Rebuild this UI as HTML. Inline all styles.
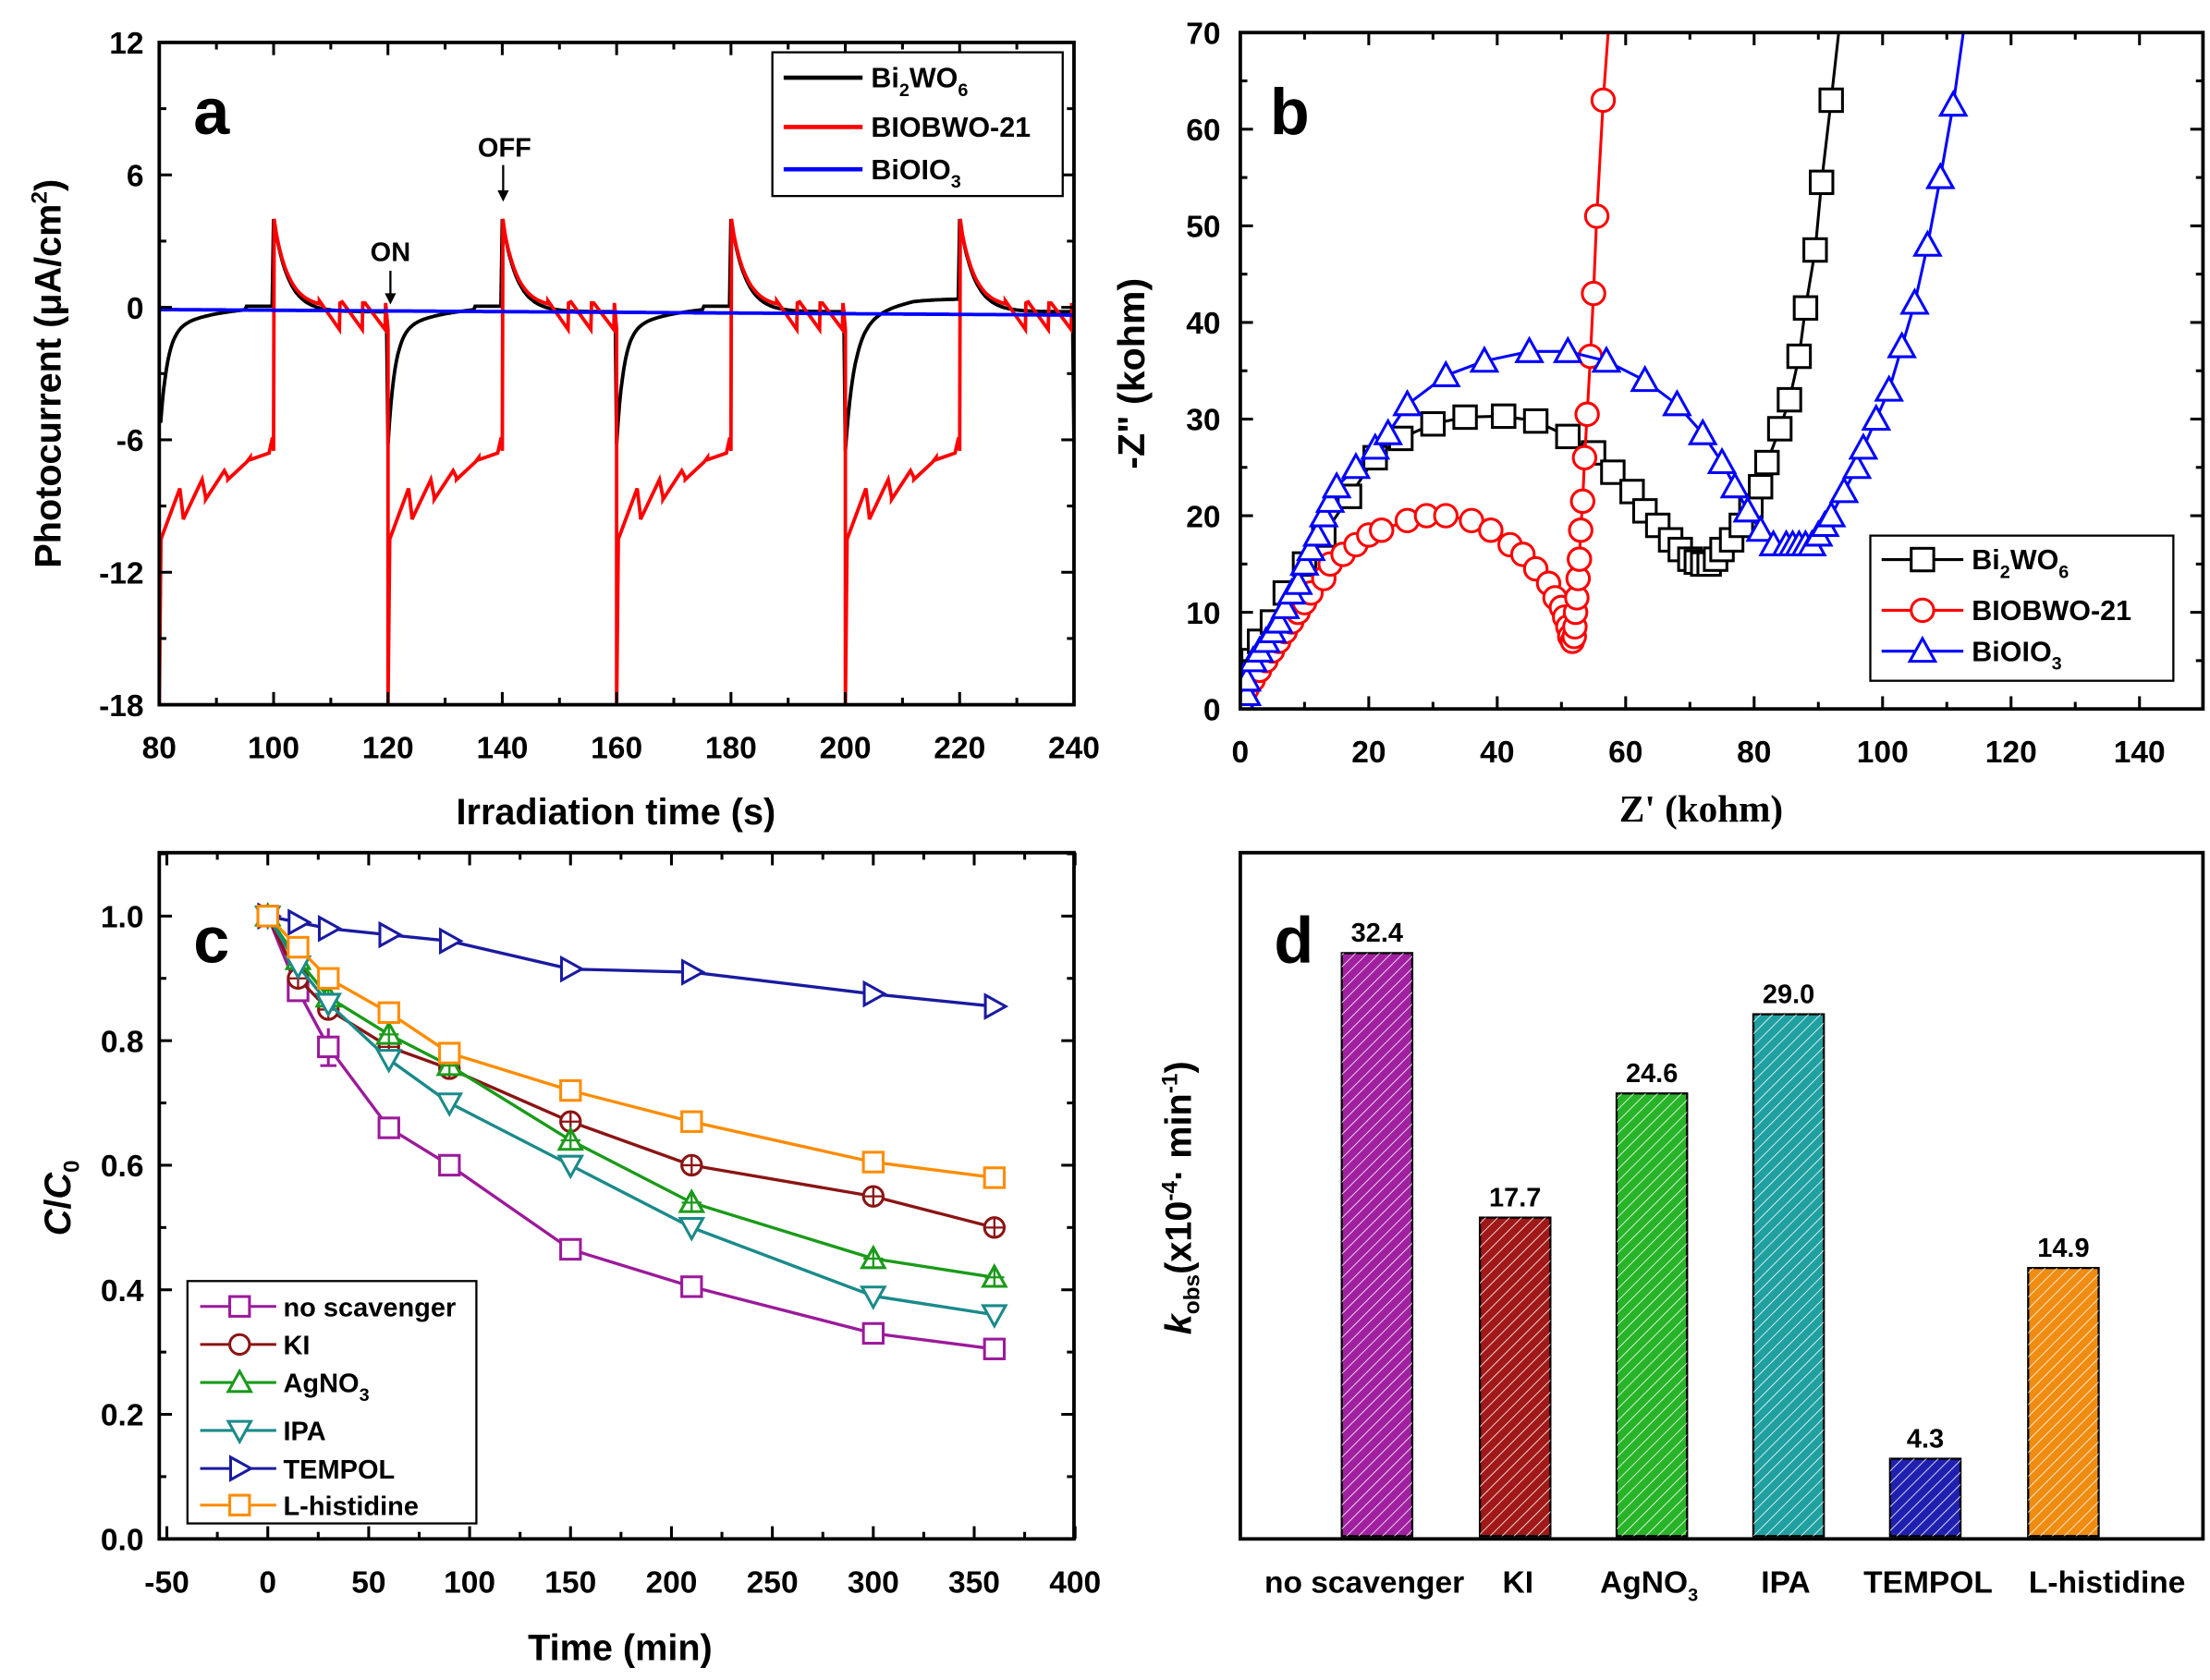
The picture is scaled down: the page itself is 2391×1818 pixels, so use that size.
<!DOCTYPE html>
<html><head><meta charset="utf-8"><style>
html,body{margin:0;padding:0;background:#fff}
svg{display:block}
text{font-family:"Liberation Sans",Arial,sans-serif;font-weight:bold}
</style></head><body>
<svg id="s" width="2391" height="1818" viewBox="0 0 1568 1192" xmlns="http://www.w3.org/2000/svg">
<defs>
<pattern id="h" width="6" height="6" patternUnits="userSpaceOnUse" patternTransform="rotate(45)"><rect width="6" height="6" fill="none"/><line x1="0" y1="0" x2="0" y2="6" stroke="#fff" stroke-width="1.3" opacity="0.8"/></pattern>
</defs>
<g id="g"></g>
</svg>
<script>
var g=document.getElementById('g');var out='';
function L(x1,y1,x2,y2,c,w){out+='<line x1="'+x1+'" y1="'+y1+'" x2="'+x2+'" y2="'+y2+'" stroke="'+(c||'#000')+'" stroke-width="'+(w||2)+'"/>';}
function T(x,y,s,sz,anchor,extra){out+='<text x="'+x+'" y="'+y+'" font-size="'+sz+'" text-anchor="'+(anchor||'middle')+'" '+(extra||'')+'>'+s+'</text>';}
function P(pts,c,w){out+='<polyline fill="none" stroke="'+c+'" stroke-width="'+(w||2)+'" points="'+pts.map(p=>p[0].toFixed(1)+','+p[1].toFixed(1)).join(' ')+'"/>';}
function box(x1,y1,x2,y2){out+='<rect x="'+x1+'" y="'+y1+'" width="'+(x2-x1)+'" height="'+(y2-y1)+'" fill="none" stroke="#000" stroke-width="2.5"/>';}
function mk(type,x,y,c,s){s=s||8;
 if(type=='sq')out+='<rect x="'+(x-s+1)+'" y="'+(y-s+1)+'" width="'+(2*s-2)+'" height="'+(2*s-2)+'" fill="#fff" stroke="'+c+'" stroke-width="2"/>';
 else if(type=='ci')out+='<circle cx="'+x+'" cy="'+y+'" r="'+(s-1)+'" fill="#fff" stroke="'+c+'" stroke-width="2"/>';
 else if(type=='up')out+='<polygon points="'+x+','+(y-s)+' '+(x+s)+','+(y+s*0.8)+' '+(x-s)+','+(y+s*0.8)+'" fill="#fff" stroke="'+c+'" stroke-width="2"/>';
 else if(type=='dn')out+='<polygon points="'+x+','+(y+s)+' '+(x+s)+','+(y-s*0.8)+' '+(x-s)+','+(y-s*0.8)+'" fill="#fff" stroke="'+c+'" stroke-width="2"/>';
 else if(type=='rt')out+='<polygon points="'+(x+s)+','+y+' '+(x-s*0.8)+','+(y-s)+' '+(x-s*0.8)+','+(y+s)+'" fill="#fff" stroke="'+c+'" stroke-width="2"/>';
}
// ===== Panel a =====
var ax=t=>113+(t-80)*649/160, ay=v=>30+(12-v)*470/30;
// clip
out+='<clipPath id="ca"><rect x="113" y="30" width="649" height="470"/></clipPath>';
var blk=[],red=[],blu=[];
for(var t=80;t<=240;t+=0.25){
 var ph=(t-80)%40, v;
 if(ph<20){var d=ph; v=-5*Math.exp(-d/1.2)-1.2*Math.exp(-d/8)+0.1*(d/20); if(d>15)v=0.05; if(t>=200&&t<220)v=-5*Math.exp(-d/1.5)-1.5*Math.exp(-d/5)+0.4*Math.min(1,d/12);}
 else {var d=ph-20; v=4*Math.exp(-d/2.5)-0.2*(1-Math.exp(-d/3));}
 if(t==80)v=-5;
 blk.push([ax(t),ay(v)]);
 blu.push([ax(t),ay(-0.1-0.25*(t-80)/160)]);
}
// red
red.push([ax(80),ay(-18)]);
for(var c=0;c<4;c++){var t0=80+c*40;
 red.push([ax(t0),ay(-18)]);red.push([ax(t0+0.3),ay(-10.5)]);
 var v=-10.5;
 for(var k=0;k<5;k++){var ts=t0+0.3+k*3.9;red.push([ax(ts),ay(-10.5+k*0.9)]);red.push([ax(ts+3.3),ay(-8.2+k*0.4)]);red.push([ax(ts+3.9),ay(-10+k*0.9+0.5)]);}
 red.push([ax(t0+20),ay(-6.5)]);red.push([ax(t0+20.1),ay(4)]);
 for(var d=0.5;d<=8;d+=0.5)red.push([ax(t0+20+d),ay(4*Math.exp(-d/2.5))]);
 for(var k=0;k<3;k++){var ts=t0+28+k*4;red.push([ax(ts),ay(0.3-k*0.05)]);red.push([ax(ts+3.5),ay(-1)]);red.push([ax(ts+3.6),ay(0.2)]);}
 red.push([ax(t0+40),ay(-1)]);
}
out+='<g clip-path="url(#ca)">';P(blk,'#000',2.5);P(red,'#ff0000',2.5);P(blu,'#0000ff',2.5);out+='</g>';
box(113,30,762,500);
for(var t=80;t<=240;t+=20){var x=ax(t);L(x,500,x,491);L(x,30,x,39);T(x,538,t,22);}
for(var t=90;t<240;t+=20){var x=ax(t);L(x,500,x,495);L(x,30,x,35);}
for(var v=-18;v<=12;v+=6){var y=ay(v);L(113,y,122,y);L(762,y,753,y);T(102,y+8,v,22,'end');}
for(var v=-15;v<12;v+=6){var y=ay(v);L(113,y,118,y);L(762,y,757,y);}
T(437,585,'Irradiation time (s)',26);
T(43,265,'Photocurrent (μA/cm<tspan dy="-10" font-size="16">2</tspan><tspan dy="10">)</tspan>',26,'middle','transform="rotate(-90 43 265)"');
T(150,95,'a',46);
T(277,185,'ON',19);L(277,192,277,210,'#000',1.5);out+='<polygon points="273,208 281,208 277,216" fill="#000"/>';
T(358,111,'OFF',19);L(357,117,357,137,'#000',1.5);out+='<polygon points="353,135 361,135 357,143" fill="#000"/>';
out+='<rect x="548" y="37" width="206" height="102" fill="#fff" stroke="#000" stroke-width="1.5"/>';
L(556,55,612,55,'#000',3);T(618,62,'Bi<tspan dy="6" font-size="13">2</tspan><tspan dy="-6">WO</tspan><tspan dy="6" font-size="13">6</tspan>',20,'start');
L(556,90,612,90,'#ff0000',3);T(618,97,'BIOBWO-21',20,'start');
L(556,120,612,120,'#0000ff',3);T(618,127,'BiOIO<tspan dy="6" font-size="13">3</tspan>',20,'start');
// ===== Panel b =====
var bx=v=>880+v*4.557, by=v=>503-v*6.857;
var B=[[1,3],[2,5],[3,7],[5,9],[7,12],[10,15],[13,18],[17,22],[21,26],[25,28],[30,29.5],[35,30.2],[41,30.3],[46,29.8],[51,28.2],[55,26.5],[58,24.5],[61,22.5],[63,20.5],[65,19],[67,17.5],[68.5,16.5],[70,15.5],[71,15.2],[72,15],[73,15],[74,15.5],[75,16.5],[76.5,17.5],[78,19],[79.5,21],[81,23],[82,25.5],[84,29],[85.5,32],[87,36.5],[88,41.5],[89.5,47.5],[90.5,54.5],[92,63],[93.5,72]];
var R=[[0.5,1],[1,2],[2,3],[3,4],[4,5],[5,6],[6,7],[7,8],[8,9],[9,10],[10,11],[11,12],[13,13.5],[14,15],[16,16],[18,17],[20,18],[22,18.5],[26,19.5],[29,20],[32,20],[36,19.5],[39,18.5],[42,17],[44,16],[46,14.5],[48,13],[49,11.5],[50,10.5],[50.5,9.5],[51,8.5],[51.3,7.5],[51.7,7],[52,7.5],[52.1,8.5],[52.2,10],[52.4,11.5],[52.6,13.5],[52.8,15.5],[53,18.5],[53.3,21.5],[53.6,26],[54,30.5],[54.5,36.5],[55,43],[55.5,51],[56.5,63],[57.5,72]];
var U=[[0.5,0.5],[1,1.5],[1,3],[2,5],[3,6],[4,7],[5,8],[6,9],[7,10.5],[8,12],[9,13],[10,15],[11,16.5],[12,18],[13,20],[14,21.5],[15,23],[18,25],[21,27],[23,28.5],[26,31.5],[32,34.5],[38,36],[45,37],[51,37],[57,36],[63,34],[68,31.5],[72,28.5],[75,25.5],[77,23],[79,20.5],[81,18.5],[83,17],[85,17],[86,17],[87,17],[88,17],[89,17],[90,18],[91,19],[92,20],[94,22.5],[96,25],[97,27],[99,30],[101,33],[103,37.5],[105,42],[107,48],[109,55],[111,62.5],[113,72]];
out+='<clipPath id="cb"><rect x="880" y="23" width="683" height="480"/></clipPath><g clip-path="url(#cb)">';
[[B,'#000','sq'],[R,'#ff0000','ci'],[U,'#0000ff','up']].forEach(function(s){var pts=s[0].map(p=>[bx(p[0]),by(p[1])]);P(pts,s[1],2);pts.forEach(p=>{if(p[1]>15)mk(s[2],p[0],p[1],s[1],9)});});
out+='</g>';
box(880,23,1563,503);
for(var v=0;v<=140;v+=20){var x=bx(v);L(x,503,x,494);L(x,23,x,32);T(x,541,v,22);}
for(var v=10;v<=150;v+=20){var x=bx(v);if(x<1563){L(x,503,x,498);L(x,23,x,28);}}
for(var v=0;v<=70;v+=10){var y=by(v);L(880,y,889,y);L(1563,y,1554,y);T(866,y+8,v,22,'end');}
for(var v=5;v<70;v+=10){var y=by(v);L(880,y,885,y);L(1563,y,1558,y);}
out+='<text x="1207" y="583" font-size="27" text-anchor="middle" style="font-family:\'Liberation Serif\',serif;font-weight:bold">Z\' (kohm)</text>';
T(812,265,'-Z" (kohm)',27,'middle','transform="rotate(-90 812 265)"');
T(915,95,'b',46);
out+='<rect x="1327" y="380" width="215" height="103" fill="#fff" stroke="#000" stroke-width="1.5"/>';
L(1335,397,1393,397,'#000',2);mk('sq',1364,397,'#000',9);T(1399,404,'Bi<tspan dy="6" font-size="13">2</tspan><tspan dy="-6">WO</tspan><tspan dy="6" font-size="13">6</tspan>',20,'start');
L(1335,433,1393,433,'#ff0000',2);mk('ci',1364,433,'#ff0000',9);T(1399,440,'BIOBWO-21',20,'start');
L(1335,462,1393,462,'#0000ff',2);mk('up',1364,462,'#0000ff',9);T(1399,469,'BiOIO<tspan dy="6" font-size="13">3</tspan>',20,'start');
// ===== Panel c =====
var cx=v=>190+v*1.432, cy=v=>1092-v*442;
var ts=[0,15,30,60,90,150,210,300,360];
var S=[
['no scavenger','#9b1a9b','sq',[1.0,0.88,0.79,0.66,0.60,0.465,0.405,0.33,0.305]],
['KI','#8b1414','ci',[1.0,0.90,0.85,0.79,0.755,0.67,0.60,0.55,0.50]],
['AgNO<tspan dy="6" font-size="13">3</tspan>','#1a9a1a','up',[1.0,0.93,0.87,0.81,0.76,0.64,0.54,0.45,0.42]],
['IPA','#1a8a8a','dn',[1.0,0.92,0.86,0.77,0.70,0.60,0.50,0.39,0.36]],
['TEMPOL','#1a1aa0','rt',[1.0,0.99,0.98,0.97,0.96,0.915,0.91,0.875,0.855]],
['L-histidine','#ff8c00','sq',[1.0,0.95,0.90,0.845,0.78,0.72,0.67,0.605,0.58]]];
L(cx(30),cy(0.76),cx(30),cy(0.82),'#9b1a9b',2);L(cx(26),cy(0.76),cx(34),cy(0.76),'#9b1a9b',2);
S.forEach(function(s){var pts=ts.map((t,i)=>[cx(t),cy(s[3][i])]);P(pts,s[1],2.2);pts.forEach(p=>{mk(s[2],p[0],p[1],s[1],8);if(s[2]=='ci'||s[2]=='up'){L(p[0]-7,p[1],p[0]+7,p[1],s[1],1.5);L(p[0],p[1]-7,p[0],p[1]+7,s[1],1.5);}});});
box(113,605,762,1092);
for(var v=-50;v<=400;v+=50){var x=cx(v);L(x,1092,x,1083);L(x,605,x,614);T(x,1130,v,22);}
for(var v=-25;v<400;v+=50){var x=cx(v);L(x,1092,x,1087);L(x,605,x,610);}
for(var v=0;v<=1.0001;v+=0.2){var y=cy(v);L(113,y,122,y);L(762,y,753,y);T(102,y+8,v.toFixed(1),22,'end');}
for(var v=0.1;v<1.1;v+=0.2){var y=cy(v);L(113,y,118,y);L(762,y,757,y);}
T(440,1178,'Time (min)',26);
T(50,850,'<tspan font-style="italic">C</tspan>/<tspan font-style="italic">C</tspan><tspan dy="6" font-size="16">0</tspan>',26,'middle','transform="rotate(-90 50 850)"');
T(150,683,'c',46);
out+='<rect x="133" y="909" width="205" height="172" fill="#fff" stroke="#000" stroke-width="1.5"/>';
var ly=[927,954,981,1015,1042,1068];
S.forEach(function(s,i){L(142,ly[i],196,ly[i],s[1],2);mk(s[2],170,ly[i],s[1],8);T(201,ly[i]+7,s[0],19,'start');});
// ===== Panel d =====
var bars=[[977,32.4,'#a020a0'],[1075,17.7,'#a01818'],[1172,24.6,'#28b428'],[1269,29.0,'#20a0a0'],[1366,4.3,'#2020b0'],[1464,14.9,'#f08c10']];
bars.forEach(function(b){var top=1090-b[1]*12.77;out+='<rect x="'+(b[0]-25)+'" y="'+top+'" width="50" height="'+(1090-top)+'" fill="'+b[2]+'" stroke="#000" stroke-width="1.5"/>';out+='<rect x="'+(b[0]-25)+'" y="'+top+'" width="50" height="'+(1090-top)+'" fill="url(#h)"/>';T(b[0],top-8,b[1].toFixed(1),19);});
box(880,605,1563,1092);
var lab=['no scavenger','KI','AgNO<tspan dy="6" font-size="13">3</tspan>','IPA','TEMPOL','L-histidine'];
var lx=[968,1077,1170,1267,1368,1495];
lab.forEach((s,i)=>T(lx[i],1130,s,22));
T(845,850,'<tspan font-style="italic">k</tspan><tspan dy="6" font-size="16">obs</tspan><tspan dy="-6">(x10</tspan><tspan dy="-10" font-size="16">-4</tspan><tspan dy="10">· min</tspan><tspan dy="-10" font-size="16">-1</tspan><tspan dy="10">)</tspan>',26,'middle','transform="rotate(-90 845 850)"');
T(918,683,'d',46);
g.innerHTML=out;
</script>
</body></html>
